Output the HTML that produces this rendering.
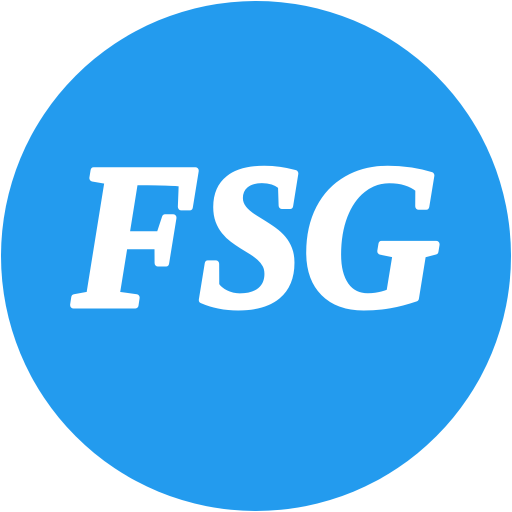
<!DOCTYPE html>
<html><head><meta charset="utf-8"><style>
html,body{margin:0;padding:0;width:512px;height:512px;background:#fff;overflow:hidden}
</style></head><body>
<svg width="512" height="512" viewBox="0 0 512 512">
<circle cx="256" cy="256" r="255" fill="#239BEE"/>
<text x="256" y="305" text-anchor="middle" fill="#fff" stroke="#fff" stroke-width="7" stroke-linejoin="round" font-family="'Liberation Serif', serif" font-style="italic" font-weight="bold" font-size="205" textLength="365" lengthAdjust="spacingAndGlyphs">FSG</text>
</svg>
</body></html>
